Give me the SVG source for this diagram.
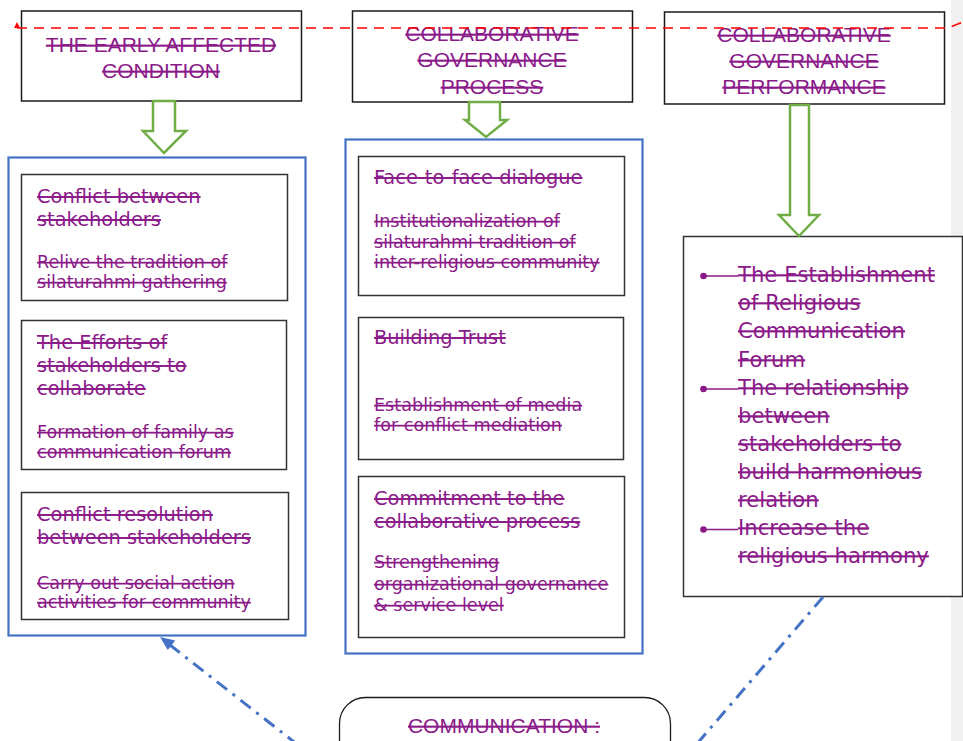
<svg xmlns="http://www.w3.org/2000/svg" width="963" height="741" viewBox="0 0 963 741">
  <style>
    .hdr { fill: #fff; stroke: #1a1a1a; stroke-width: 1.5; }
    .grp { fill: #fff; stroke: #4472C4; stroke-width: 2.2; }
    .box { fill: #fff; stroke: #333; stroke-width: 1.5; }
    .flow { fill: #fff; stroke: #70AD47; stroke-width: 2.5; stroke-linejoin: miter; }
    .ttl { font-family: "Liberation Sans", Arial, sans-serif; font-size: 21px; fill: #8B1A89; text-anchor: middle; text-decoration: line-through; }
    .t1 { font-family: "DejaVu Sans", Verdana, sans-serif; font-size: 19.4px; fill: #8B1A89; text-decoration: line-through; }
    .t2 { font-family: "DejaVu Sans", Verdana, sans-serif; font-size: 17.6px; fill: #8B1A89; text-decoration: line-through; }
    .t3 { font-family: "DejaVu Sans", Verdana, sans-serif; font-size: 21.2px; fill: #8B1A89; text-decoration: line-through; }
    .dd { fill: none; stroke: #4472C4; stroke-width: 3; stroke-dasharray: 13 7 3 7; }
  </style>

  <rect width="963" height="741" fill="#fff"/>
  <rect x="951" y="0" width="12" height="741" fill="#f0f0f0"/>

  <!-- column headers -->
  <g id="hdr-early">
    <rect class="hdr" x="21.5" y="11" width="280" height="90"/>
    <text class="ttl" x="161" y="52">THE EARLY AFFECTED</text>
    <text class="ttl" x="161" y="78">CONDITION</text>
  </g>
  <g id="hdr-process">
    <rect class="hdr" x="352.5" y="11" width="280" height="91"/>
    <text class="ttl" x="492" y="41">COLLABORATIVE</text>
    <text class="ttl" x="492" y="67">GOVERNANCE</text>
    <text class="ttl" x="492" y="94">PROCESS</text>
  </g>
  <g id="hdr-performance">
    <rect class="hdr" x="664.5" y="12" width="280" height="92"/>
    <text class="ttl" x="804" y="42">COLLABORATIVE</text>
    <text class="ttl" x="804" y="68">GOVERNANCE</text>
    <text class="ttl" x="804" y="94">PERFORMANCE</text>
  </g>

  <!-- left column -->
  <g id="col-early">
    <rect class="grp" x="8.5" y="157.5" width="297" height="478"/>
    <g id="early-1">
      <rect class="box" x="21.5" y="174.5" width="266" height="126"/>
      <text class="t1" x="37" y="203">Conflict between</text>
      <text class="t1" x="37" y="226">stakeholders</text>
      <text class="t2" x="37" y="268">Relive the tradition of</text>
      <text class="t2" x="37" y="288">silaturahmi gathering</text>
    </g>
    <g id="early-2">
      <rect class="box" x="21.5" y="320.5" width="265" height="149"/>
      <text class="t1" x="37" y="349">The Efforts of</text>
      <text class="t1" x="37" y="372">stakeholders to</text>
      <text class="t1" x="37" y="395">collaborate</text>
      <text class="t2" x="37" y="438">Formation of family as</text>
      <text class="t2" x="37" y="458">communication forum</text>
    </g>
    <g id="early-3">
      <rect class="box" x="21.5" y="492.5" width="267" height="127"/>
      <text class="t1" x="37" y="521">Conflict resolution</text>
      <text class="t1" x="37" y="544">between stakeholders</text>
      <text class="t2" x="37" y="589">Carry out social action</text>
      <text class="t2" x="37" y="608">activities for community</text>
    </g>
  </g>

  <!-- middle column -->
  <g id="col-process">
    <rect class="grp" x="345.5" y="139.5" width="297" height="514"/>
    <g id="process-1">
      <rect class="box" x="358.5" y="156.5" width="266" height="139"/>
      <text class="t1" x="374" y="184">Face-to-face dialogue</text>
      <text class="t2" x="374" y="227">Institutionalization of</text>
      <text class="t2" x="374" y="248">silaturahmi tradition of</text>
      <text class="t2" x="374" y="268">inter-religious community</text>
    </g>
    <g id="process-2">
      <rect class="box" x="358.5" y="317.5" width="265" height="142"/>
      <text class="t1" x="374" y="344">Building Trust</text>
      <text class="t2" x="374" y="411">Establishment of media</text>
      <text class="t2" x="374" y="431">for conflict mediation</text>
    </g>
    <g id="process-3">
      <rect class="box" x="358.5" y="476.5" width="266" height="161"/>
      <text class="t1" x="374" y="505">Commitment to the</text>
      <text class="t1" x="374" y="528">collaborative process</text>
      <text class="t2" x="374" y="568">Strengthening</text>
      <text class="t2" x="374" y="590">organizational governance</text>
      <text class="t2" x="374" y="611">&amp; service level</text>
    </g>
  </g>

  <!-- right column -->
  <g id="col-performance">
    <rect class="box" x="683.5" y="236.5" width="279" height="360" stroke="#1a1a1a"/>
    <g fill="#8B1A89" stroke="#8B1A89" stroke-width="1.6">
      <circle cx="703.5" cy="276" r="3.3" stroke="none"/>
      <line x1="703.5" y1="276" x2="738" y2="276"/>
      <circle cx="703.5" cy="389" r="3.3" stroke="none"/>
      <line x1="703.5" y1="389" x2="738" y2="389"/>
      <circle cx="703.5" cy="529.5" r="3.3" stroke="none"/>
      <line x1="703.5" y1="529.5" x2="738" y2="529.5"/>
    </g>
    <text class="t3" x="738" y="282">The Establishment</text>
    <text class="t3" x="738" y="310">of Religious</text>
    <text class="t3" x="738" y="338">Communication</text>
    <text class="t3" x="738" y="367">Forum</text>
    <text class="t3" x="738" y="395">The relationship</text>
    <text class="t3" x="738" y="423">between</text>
    <text class="t3" x="738" y="451">stakeholders to</text>
    <text class="t3" x="738" y="479">build harmonious</text>
    <text class="t3" x="738" y="507">relation</text>
    <text class="t3" x="738" y="535">Increase the</text>
    <text class="t3" x="738" y="563">religious harmony</text>
  </g>

  <!-- communication box at the bottom -->
  <g id="communication">
    <rect x="339.5" y="697.5" width="331" height="80" rx="26" ry="26" fill="#fff" stroke="#1a1a1a" stroke-width="1.3"/>
    <text class="ttl" x="504" y="733">COMMUNICATION :</text>
  </g>

  <!-- connectors -->
  <g id="connectors">
    <polygon class="flow" points="153,101 175,101 175,131 186,131 164,153 143,131 153,131"/>
    <polygon class="flow" points="469,102 500,102 500,120 507,120 486,137 465,120 469,120"/>
    <polygon class="flow" points="790,105 809,105 809,215 819,215 799,236 779,215 790,215"/>
    <path d="M17,28 H948 L963,22" fill="none" stroke="#FF0000" stroke-width="1.5" stroke-dasharray="10 7"/>
    <polygon points="17,22 14,28 20,28" fill="#FF0000"/>
    <path class="dd" d="M298,745 L170,645"/>
    <polygon points="160,637 175.2,640.6 167.8,650.0" fill="#4472C4"/>
    <path class="dd" d="M823,597 L696,745"/>
  </g>
</svg>
